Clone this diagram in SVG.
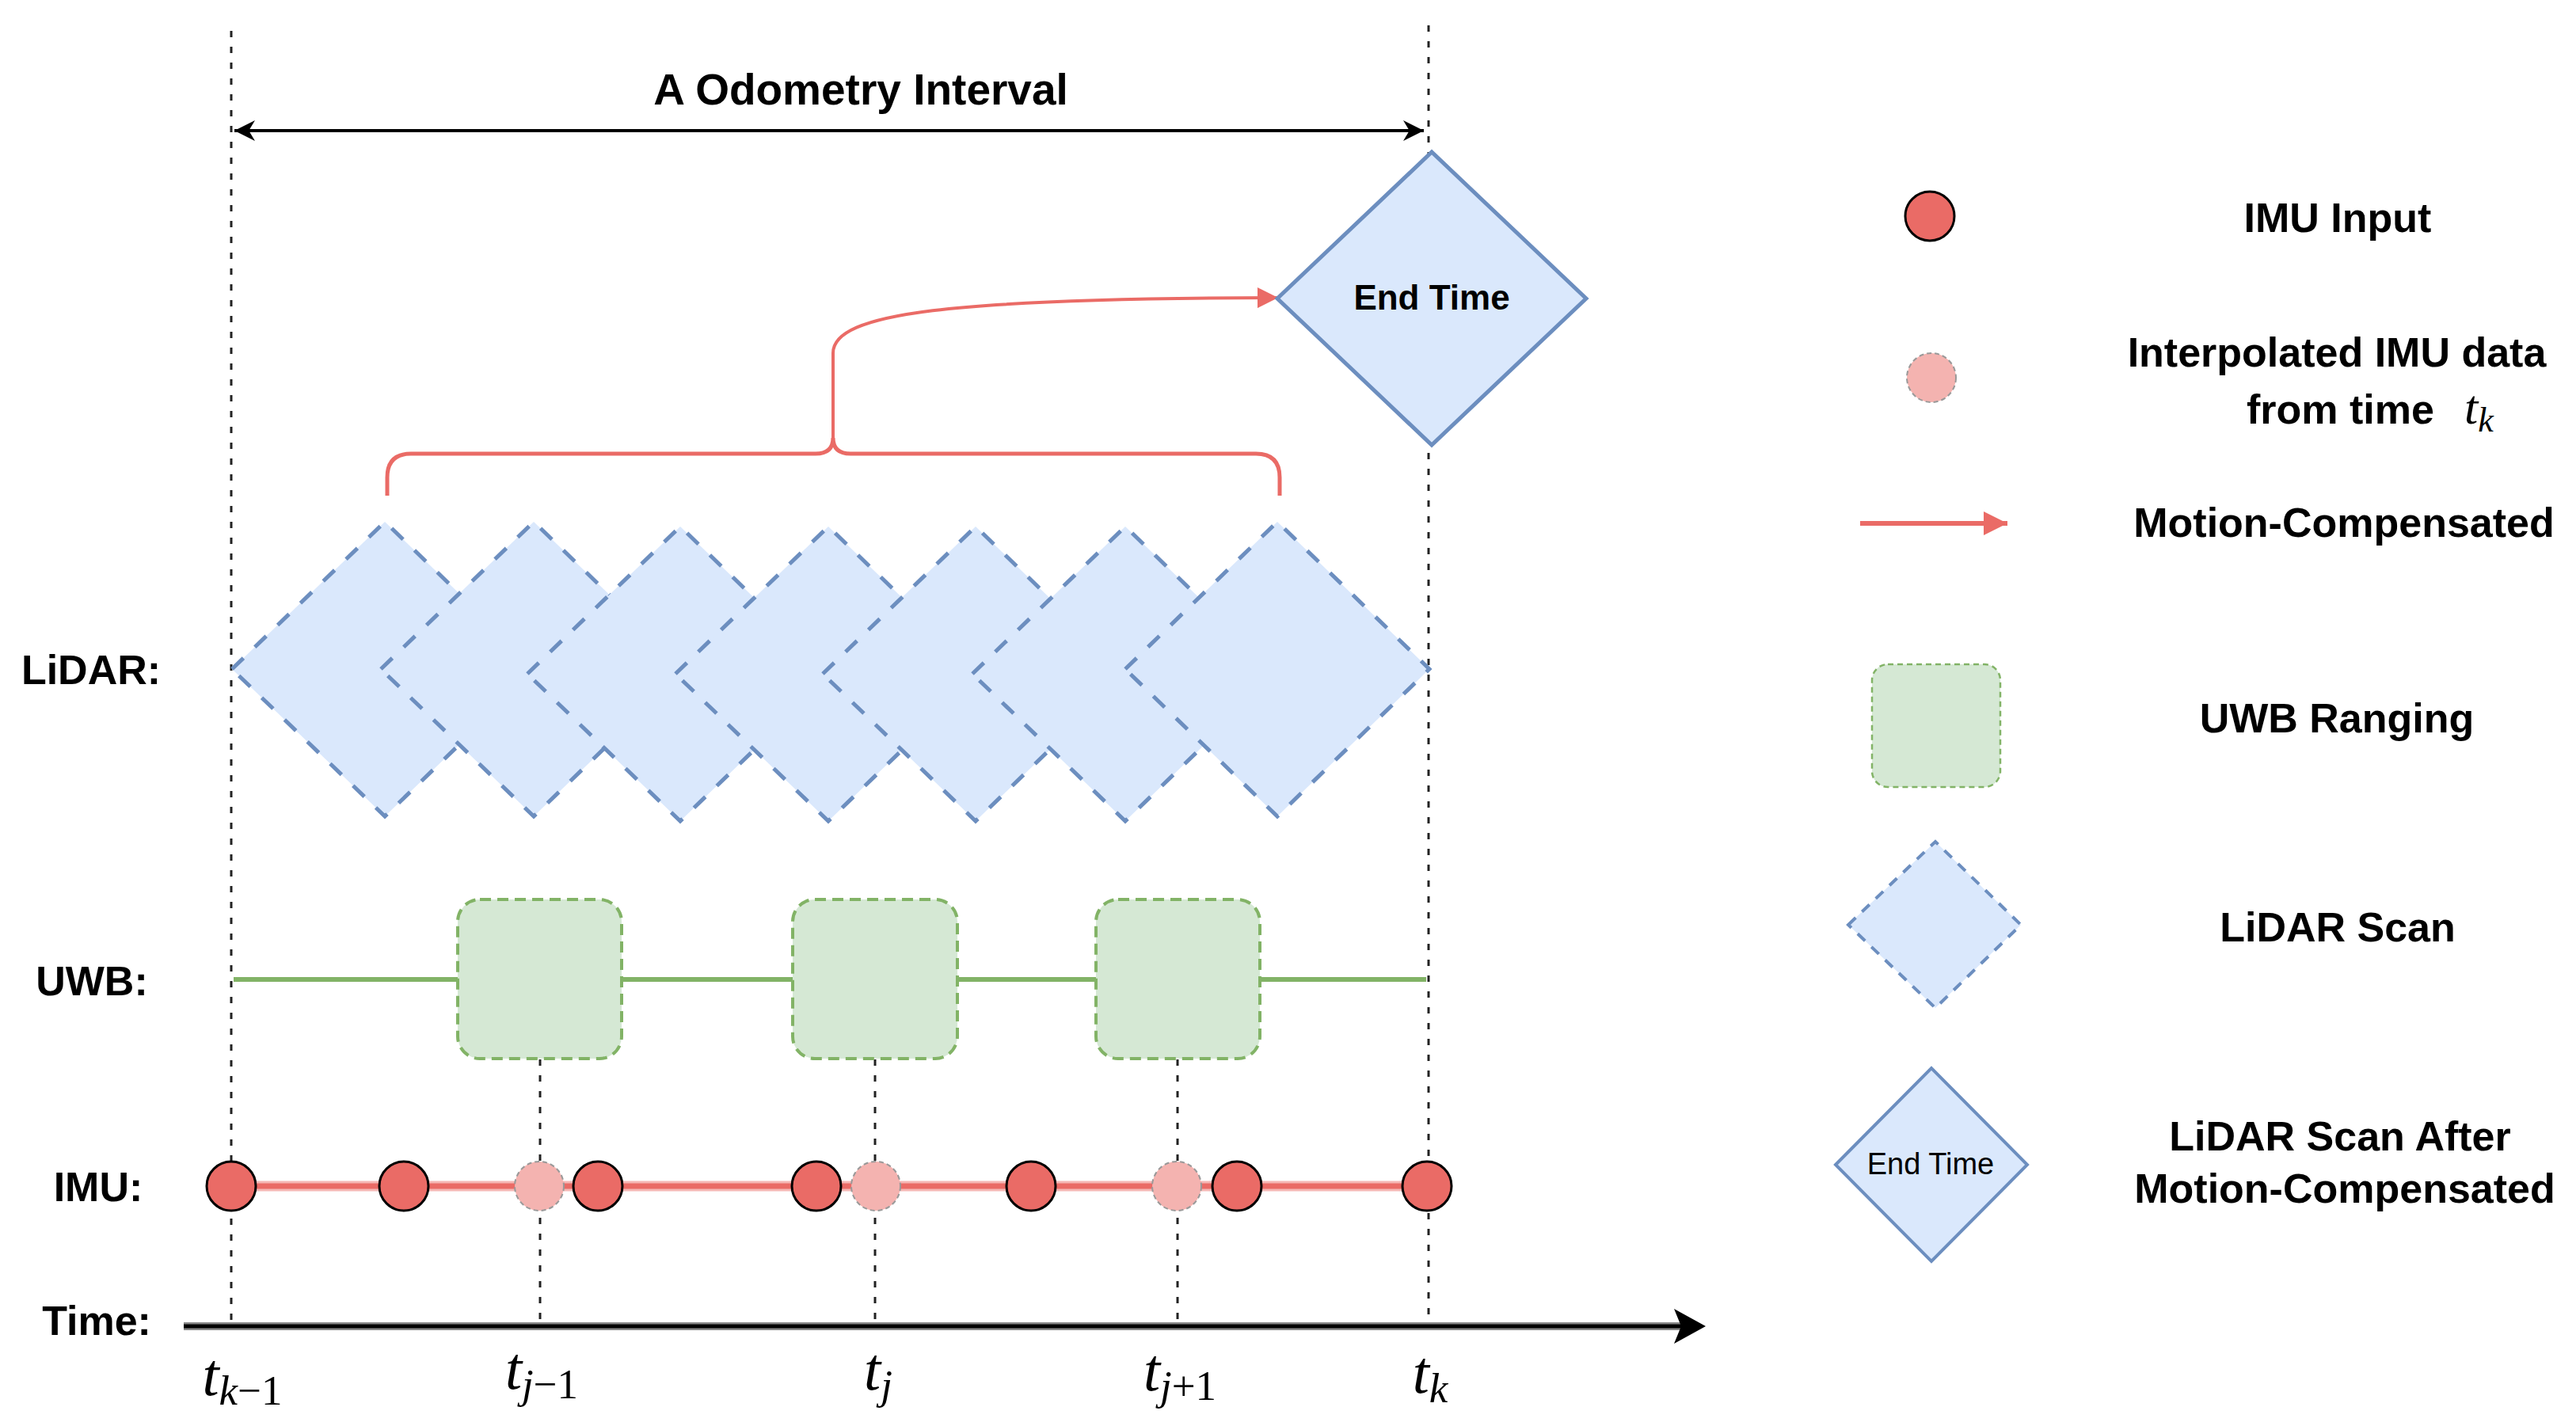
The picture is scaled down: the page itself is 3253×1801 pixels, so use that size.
<svg xmlns="http://www.w3.org/2000/svg" width="3253" height="1801" viewBox="0 0 3253 1801">
<defs>
<style>
.lbl{font-family:"Liberation Sans",Arial,sans-serif;font-weight:bold;font-size:52px;fill:#000}
.math{font-family:"Liberation Serif","Times New Roman",serif;font-style:italic;fill:#000}
.vdash{stroke:#222;stroke-width:3;stroke-dasharray:8 12;fill:none}
.lidar{fill:#dae8fc;stroke:#6c8ebf;stroke-width:5;stroke-dasharray:20 20}
.endt{fill:#dae8fc;stroke:#6c8ebf;stroke-width:5}
.uwb{fill:#d5e8d4;stroke:#82b366;stroke-width:4;stroke-dasharray:14 8}
.imu{fill:#ea6b66;stroke:#000;stroke-width:3}
.imuI{fill:#f4b3b0;stroke:#999;stroke-width:2;stroke-dasharray:6 4}
.red{fill:none;stroke:#ea6b66;stroke-width:5}
</style>
<marker id="blk" viewBox="0 0 10 10" refX="10" refY="5" markerUnits="userSpaceOnUse" markerWidth="26" markerHeight="28" orient="auto-start-reverse">
<path d="M0,0 L10,5 L0,10 L3,5 z" fill="#000"/>
</marker>
<marker id="redA" viewBox="0 0 10 10" refX="10" refY="5" markerUnits="userSpaceOnUse" markerWidth="40" markerHeight="26" orient="auto">
<path d="M0,0 L10,5 L0,10 z" fill="#ea6b66"/>
</marker>
<marker id="redL" viewBox="0 0 10 10" refX="10" refY="5" markerUnits="userSpaceOnUse" markerWidth="46" markerHeight="30" orient="auto">
<path d="M0,0 L10,5 L0,10 z" fill="#ea6b66"/>
</marker>
</defs>
<rect width="3253" height="1801" fill="#fff"/>

<g id="guides">
<line class="vdash" x1="292" y1="39" x2="292" y2="1675"/>
<line class="vdash" x1="1804" y1="32" x2="1804" y2="1675"/>
<line class="vdash" x1="682" y1="1338" x2="682" y2="1675"/>
<line class="vdash" x1="1105" y1="1338" x2="1105" y2="1675"/>
<line class="vdash" x1="1487" y1="1338" x2="1487" y2="1675"/>
</g>

<g id="row-labels">
<text class="lbl" x="1087" y="132" text-anchor="middle" style="font-size:55px">A Odometry Interval</text>
<text class="lbl" x="115" y="864" text-anchor="middle">LiDAR:</text>
<text class="lbl" x="116" y="1257" text-anchor="middle">UWB:</text>
<text class="lbl" x="124" y="1517" text-anchor="middle">IMU:</text>
<text class="lbl" x="122" y="1686" text-anchor="middle">Time:</text>
</g>

<g id="connectors">
<line x1="296" y1="165" x2="1798" y2="165" stroke="#000" stroke-width="4" marker-start="url(#blk)" marker-end="url(#blk)"/>
<line x1="295" y1="1237" x2="1801" y2="1237" stroke="#82b366" stroke-width="6"/>
<line x1="292" y1="1498" x2="1803" y2="1498" stroke="#f5b8b5" stroke-width="13"/>
<line x1="292" y1="1498" x2="1803" y2="1498" stroke="#ea6b66" stroke-width="7"/>
<line x1="232" y1="1675" x2="2125" y2="1675" stroke="#888" stroke-width="10"/>
<line x1="232" y1="1675" x2="2125" y2="1675" stroke="#000" stroke-width="5"/>
<path d="M2154,1675 L2114,1653 L2123,1675 L2114,1697 z" fill="#000"/>
<path class="red" d="M489,626 L489,603 Q489,573 519,573 L1030,573 Q1052,573 1052,553 Q1052,573 1074,573 L1586,573 Q1616,573 1616,603 L1616,626"/>
<path d="M1052,553 L1052,446 C1052,395 1200,377 1614,376" fill="none" stroke="#ea6b66" stroke-width="4" marker-end="url(#redA)"/>
</g>

<g id="lidar-scans">
<polygon class="lidar" points="293,845 486,659 679,845 486,1031"/>
<polygon class="lidar" points="481,845 674,659 867,845 674,1031"/>
<polygon class="lidar" points="666,851 859,665 1052,851 859,1037"/>
<polygon class="lidar" points="853,851 1046,665 1239,851 1046,1037"/>
<polygon class="lidar" points="1039,851 1232,665 1425,851 1232,1037"/>
<polygon class="lidar" points="1228,851 1421,665 1614,851 1421,1037"/>
<polygon class="lidar" points="1421,845 1613,659 1805,845 1613,1031"/>
</g>

<g id="end-time">
<polygon class="endt" points="1613,377 1808,192 2003,377 1808,562"/>
<text class="lbl" x="1808" y="391" text-anchor="middle" style="font-size:44px">End Time</text>
</g>

<g id="uwb-ranging">
<rect class="uwb" x="578" y="1136" width="207" height="201" rx="28"/>
<rect class="uwb" x="1001" y="1136" width="208" height="201" rx="28"/>
<rect class="uwb" x="1384" y="1136" width="207" height="201" rx="28"/>
</g>

<g id="imu-samples">
<circle class="imu" cx="292" cy="1498" r="31"/>
<circle class="imu" cx="510" cy="1498" r="31"/>
<circle class="imuI" cx="681" cy="1498" r="31"/>
<circle class="imu" cx="755" cy="1498" r="31"/>
<circle class="imu" cx="1031" cy="1498" r="31"/>
<circle class="imuI" cx="1106" cy="1498" r="31"/>
<circle class="imu" cx="1302" cy="1498" r="31"/>
<circle class="imuI" cx="1486" cy="1498" r="31"/>
<circle class="imu" cx="1562" cy="1498" r="31"/>
<circle class="imu" cx="1802" cy="1498" r="31"/>
</g>

<g id="time-ticks">
<text class="math" x="306" y="1762" text-anchor="middle" font-size="76">t<tspan font-size="53" dy="12">k</tspan><tspan font-size="53" font-style="normal">−1</tspan></text>
<text class="math" x="684" y="1754" text-anchor="middle" font-size="76">t<tspan font-size="53" dy="12">j</tspan><tspan font-size="53" font-style="normal">−1</tspan></text>
<text class="math" x="1109" y="1755" text-anchor="middle" font-size="76">t<tspan font-size="53" dy="12">j</tspan></text>
<text class="math" x="1490" y="1756" text-anchor="middle" font-size="76">t<tspan font-size="53" dy="12">j</tspan><tspan font-size="53" font-style="normal">+1</tspan></text>
<text class="math" x="1806" y="1759" text-anchor="middle" font-size="76">t<tspan font-size="53" dy="12">k</tspan></text>
</g>

<g id="legend-imu-input">
<circle class="imu" cx="2437" cy="273" r="31"/>
<text class="lbl" x="2952" y="293" text-anchor="middle">IMU Input</text>
</g>
<g id="legend-interpolated">
<circle class="imuI" cx="2439" cy="477" r="31"/>
<text class="lbl" x="2951" y="463" text-anchor="middle">Interpolated IMU data</text>
<text class="lbl" x="2837" y="535">from time</text>
<text class="math" x="3112" y="535" font-size="62">t<tspan font-size="44" dy="10">k</tspan></text>
</g>
<g id="legend-motion">
<line x1="2349" y1="661" x2="2535" y2="661" stroke="#ea6b66" stroke-width="6" marker-end="url(#redL)"/>
<text class="lbl" x="2960" y="678" text-anchor="middle">Motion-Compensated</text>
</g>
<g id="legend-uwb">
<rect x="2364" y="839" width="162" height="155" rx="20" fill="#d5e8d4" stroke="#82b366" stroke-width="2.5" stroke-dasharray="7 5"/>
<text class="lbl" x="2951" y="925" text-anchor="middle">UWB Ranging</text>
</g>
<g id="legend-lidar">
<polygon points="2334,1168 2444,1063 2552,1168 2444,1273" fill="#dae8fc" stroke="#6c8ebf" stroke-width="4" stroke-dasharray="13 11"/>
<text class="lbl" x="2952" y="1189" text-anchor="middle">LiDAR Scan</text>
</g>
<g id="legend-endtime">
<polygon class="endt" points="2318,1471 2439,1349 2560,1471 2439,1593" style="stroke-width:4"/>
<text x="2438" y="1483" text-anchor="middle" font-family="Liberation Sans, Arial, sans-serif" font-size="38" fill="#000">End Time</text>
<text class="lbl" x="2955" y="1453" text-anchor="middle">LiDAR Scan After</text>
<text class="lbl" x="2961" y="1519" text-anchor="middle">Motion-Compensated</text>
</g>
</svg>
